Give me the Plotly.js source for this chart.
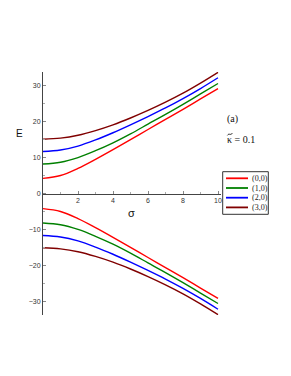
<!DOCTYPE html>
<html>
<head>
<meta charset="utf-8">
<script src="https://cdn.plot.ly/plotly-3.0.1.min.js"></script>
<style>
html,body{margin:0;padding:0;background:#fff;}
#chart{width:291px;height:376px;}
</style>
</head>
<body>
<div id="chart"></div>
<script>
// ---- data ----
var sigma = [0, 1, 2, 3, 4, 5, 6, 7, 8, 9, 10];
var seriesNames = ["(0,0)", "(1,0)", "(2,0)", "(3,0)"];
var seriesColors = ["#ff0000", "#008000", "#0000ff", "#800000"];

// upper branch (E > 0)
var up00 = [4.2, 5.0, 7.0, 9.5, 12.2, 15.0, 17.8, 20.6, 23.4, 26.3, 29.2];
var up10 = [8.2, 8.7, 10.0, 11.9, 14.1, 16.6, 19.3, 22.0, 24.8, 27.7, 30.6];
var up20 = [11.7, 12.1, 13.2, 14.9, 16.9, 19.1, 21.4, 23.8, 26.4, 29.2, 32.2];
var up30 = [15.1, 15.4, 16.2, 17.5, 19.1, 21.0, 23.1, 25.4, 27.9, 30.7, 33.7];

// lower branch (E < 0)
var lo00 = [-4.2, -5.0, -7.0, -9.5, -12.2, -15.0, -17.8, -20.6, -23.4, -26.3, -29.2];
var lo10 = [-8.2, -8.7, -10.0, -11.9, -14.1, -16.6, -19.3, -22.0, -24.8, -27.7, -30.6];
var lo20 = [-11.7, -12.1, -13.2, -14.9, -16.9, -19.1, -21.4, -23.8, -26.4, -29.2, -32.2];
var lo30 = [-15.1, -15.4, -16.2, -17.5, -19.1, -21.0, -23.1, -25.4, -27.9, -30.7, -33.7];

var yTickVals = [-30, -20, -10, 0, 10, 20, 30];
var xTickVals = [2, 4, 6, 8, 10];
var panelLabel = "(a)";
var kappaLabel = "\u03BA = 0.1";   // tilde accent over kappa drawn as a small path
var yLabel = "E";
var xLabel = "\u03C3";

// ---- layout geometry (pixels) ----
var W = 291, H = 376;
var M = {l: 43, r: 70, t: 72, b: 61};
var PW = W - M.l - M.r, PH = H - M.t - M.b;
function px(x) { return (x - M.l) / PW; }
function py(y) { return 1 - (y - M.t) / PH; }

var upper = [up00, up10, up20, up30];
var lower = [lo00, lo10, lo20, lo30];
var traces = [];
for (var i = 0; i < 4; i++) {
  traces.push({x: sigma, y: upper[i], type: 'scatter', mode: 'lines', name: seriesNames[i],
    line: {color: seriesColors[i], width: 1.4, shape: 'spline', smoothing: 1}, showlegend: false, hoverinfo: 'skip'});
  traces.push({x: sigma, y: lower[i], type: 'scatter', mode: 'lines', name: seriesNames[i],
    line: {color: seriesColors[i], width: 1.4, shape: 'spline', smoothing: 1}, showlegend: false, hoverinfo: 'skip'});
}

var serif = 'Liberation Serif, Times New Roman, serif';
var sans = 'Liberation Sans, Arial, sans-serif';
var shapes = [];
var annotations = [];
// compact legend drawn in paper coordinates
var lgL = 222.7, lgR = 268.3, lgT = 171.7, lgB = 214.3;
shapes.push({type: 'rect', xref: 'paper', yref: 'paper', x0: px(lgL), x1: px(lgR), y0: py(lgB), y1: py(lgT),
  line: {color: '#333333', width: 1}, fillcolor: 'rgba(0,0,0,0)'});
var rowY = [178.3, 188.0, 197.7, 207.4];
for (var k = 0; k < 4; k++) {
  shapes.push({type: 'line', xref: 'paper', yref: 'paper', x0: px(226), x1: px(248), y0: py(rowY[k]), y1: py(rowY[k]),
    line: {color: seriesColors[k], width: 1.8}});
  annotations.push({xref: 'paper', yref: 'paper', x: px(250), y: py(rowY[k]), xanchor: 'left', yanchor: 'middle',
    text: seriesNames[k], showarrow: false, font: {family: serif, size: 8, color: '#222'}});
}
// tilde accent above kappa
var tl = [[227.4, 135.4], [229.0, 132.6], [230.6, 136.0], [232.3, 133.2]];
shapes.push({type: 'path', xref: 'paper', yref: 'paper',
  path: 'M ' + px(tl[0][0]) + ',' + py(tl[0][1]) + ' C ' + px(tl[1][0]) + ',' + py(tl[1][1]) + ' ' +
        px(tl[2][0]) + ',' + py(tl[2][1]) + ' ' + px(tl[3][0]) + ',' + py(tl[3][1]),
  line: {color: '#111', width: 0.9}});

annotations.push({xref: 'paper', yref: 'paper', x: px(224.5), y: py(119), xanchor: 'left', yanchor: 'middle',
  text: panelLabel, showarrow: false, font: {family: serif, size: 10, color: '#111'}});
annotations.push({xref: 'paper', yref: 'paper', x: px(224.5), y: py(139.5), xanchor: 'left', yanchor: 'middle',
  text: kappaLabel, showarrow: false, font: {family: serif, size: 10, color: '#111'}});
annotations.push({xref: 'paper', yref: 'paper', x: px(19), y: py(133), xanchor: 'center', yanchor: 'middle',
  text: yLabel, showarrow: false, font: {family: sans, size: 10, color: '#111'}});
annotations.push({xref: 'paper', yref: 'paper', x: px(131), y: py(212.5), xanchor: 'center', yanchor: 'middle',
  text: xLabel, showarrow: false, font: {family: sans, size: 11, color: '#111'}});

var layout = {
  width: W, height: H,
  margin: M,
  paper_bgcolor: '#fff', plot_bgcolor: '#fff',
  showlegend: false,
  xaxis: {range: [0, PW / 17.5], anchor: 'free', position: 0.5, showline: true, linecolor: '#444', linewidth: 1,
    showgrid: false, zeroline: false, tickmode: 'array', tickvals: xTickVals, ticks: 'inside', ticklen: 3,
    tickcolor: '#888', tickfont: {family: sans, size: 7, color: '#333'},
    minor: {dtick: 1, ticks: 'inside', ticklen: 2, tickcolor: '#aaa', showgrid: false}},
  yaxis: {range: [-33.8, 33.8], showline: true, linecolor: '#444', linewidth: 1, showgrid: false, zeroline: false,
    tickmode: 'array', tickvals: yTickVals, ticks: 'inside', ticklen: 3, tickcolor: '#888',
    tickfont: {family: sans, size: 7, color: '#333'},
    minor: {dtick: 5, ticks: 'inside', ticklen: 2, tickcolor: '#aaa', showgrid: false}},
  shapes: shapes,
  annotations: annotations
};

Plotly.newPlot('chart', traces, layout, {staticPlot: true, displayModeBar: false});
</script>
</body>
</html>
